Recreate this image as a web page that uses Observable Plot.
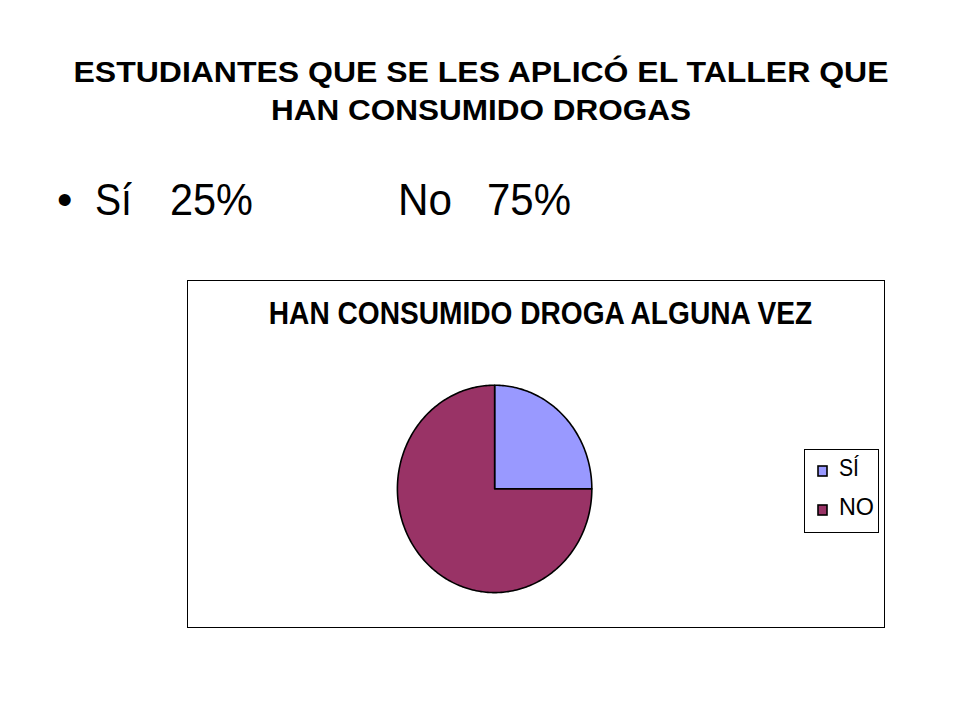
<!DOCTYPE html>
<html>
<head>
<meta charset="utf-8">
<script src="https://cdn.jsdelivr.net/npm/d3@7"></script>
<script src="https://cdn.jsdelivr.net/npm/@observablehq/plot@0.6"></script>
<style>
  html, body { margin: 0; padding: 0; background: #fff; }
  #slide { position: relative; width: 960px; height: 720px; overflow: hidden; font-family: "Liberation Sans", Arial, sans-serif; }
  #header { position: absolute; left: 0; top: 0; }
  #chartbox { position: absolute; left: 187px; top: 280px; width: 698px; height: 348px; border: 1px solid #000; box-sizing: border-box; }
  #chartbox > svg { position: absolute; left: 0; top: 0; }
  #legend { position: absolute; left: 616px; top: 168px; width: 75px; height: 84px; border: 1px solid #000; box-sizing: border-box; background: #fff; }
  #legend svg { position: absolute; left: 0; top: 0; }
</style>
</head>
<body>
<div id="slide">
  <svg id="header" width="960" height="260"></svg>
  <div id="chartbox"><div id="legend"></div></div>
</div>
<script>
// ---- data ----
const slideTitle = ["ESTUDIANTES QUE SE LES APLICÓ EL TALLER QUE", "HAN CONSUMIDO DROGAS"];
const bulletLabels = ["Sí", "25%", "No", "75%"];
const chartTitle = "HAN CONSUMIDO DROGA ALGUNA VEZ";
const categories = ["SÍ", "NO"];
const values = [25, 75];
const colors = ["#9999FF", "#993366"];

const FONT = "Liberation Sans, Arial, sans-serif";

// ---- header (title + bullet) ----
const hdr = d3.select("#header");
const titleLayout = [{baseline: 82, width: 815}, {baseline: 120, width: 420}];
slideTitle.forEach((t, i) => {
  hdr.append("text")
    .attr("x", 481).attr("y", titleLayout[i].baseline)
    .attr("text-anchor", "middle")
    .attr("font-family", FONT)
    .attr("font-weight", "bold").attr("font-size", 29)
    .attr("textLength", titleLayout[i].width).attr("lengthAdjust", "spacingAndGlyphs")
    .text(t);
});
hdr.append("text").attr("x", 57).attr("y", 215)
  .attr("font-family", FONT).attr("font-size", 44)
  .text("•");
const bulletX = [95, 170, 398, 487];
const bulletW = [37, 83, 54, 84];
bulletLabels.forEach((t, i) => {
  hdr.append("text").attr("x", bulletX[i]).attr("y", 215)
    .attr("font-family", FONT).attr("font-size", 45)
    .attr("textLength", bulletW[i]).attr("lengthAdjust", "spacingAndGlyphs")
    .text(t);
});

// ---- pie geometry from data ----
const arcs = d3.pie().sort(null)(values);
const pts = [];
arcs.forEach((a, i) => {
  const cat = categories[i];
  pts.push({cat, x: 0, y: 0});
  const n = Math.max(2, Math.ceil((a.endAngle - a.startAngle) / (Math.PI / 180)));
  for (let k = 0; k <= n; ++k) {
    const ang = a.startAngle + (a.endAngle - a.startAngle) * k / n;
    pts.push({cat, x: Math.sin(ang), y: Math.cos(ang)});
  }
  pts.push({cat, x: 0, y: 0});
});

const cx = 494 - 187, cy = 488 - 280, rx = 97.5, ry = 104;
const chart = Plot.plot({
  width: 698,
  height: 348,
  margin: 0,
  style: {background: "transparent", overflow: "visible"},
  x: {domain: [-1, 1], range: [cx - rx, cx + rx], axis: null},
  y: {domain: [-1, 1], range: [cy + ry, cy - ry], axis: null},
  color: {domain: categories, range: colors},
  marks: [
    ...categories.map((c, i) => Plot.line(pts.filter(d => d.cat === c), {
      x: "x", y: "y", fill: colors[i], stroke: "#000", strokeWidth: 1.6, strokeLinejoin: "round", curve: "linear"
    })),
    Plot.text([chartTitle], {
      frameAnchor: "top", lineAnchor: "middle", dy: 33, dx: 4,
      fontSize: 31, fontWeight: "bold", fontFamily: "Liberation Sans Narrow, Liberation Sans, Arial, sans-serif",
      fill: "#000", text: d => d
    })
  ]
});
const box = document.getElementById("chartbox");
box.insertBefore(chart, box.firstChild);
// fit the chart title width
const tt = chart.querySelector('g[aria-label="text"] text');
if (tt) { tt.setAttribute("textLength", 545); tt.setAttribute("lengthAdjust", "spacingAndGlyphs"); }

// ---- legend ----
const lg = d3.select("#legend").append("svg").attr("width", 75).attr("height", 84);
const legendBase = [26, 65];
categories.forEach((c, i) => {
  lg.append("rect").attr("x", 13).attr("y", legendBase[i] - 10).attr("width", 9).attr("height", 10)
    .attr("fill", colors[i]).attr("stroke", "#000").attr("stroke-width", 1.6);
  lg.append("text").attr("x", 34).attr("y", legendBase[i])
    .attr("font-family", FONT).attr("font-size", 23)
    .attr("textLength", i === 0 ? 20 : 35).attr("lengthAdjust", "spacingAndGlyphs")
    .text(c);
});
</script>
</body>
</html>
